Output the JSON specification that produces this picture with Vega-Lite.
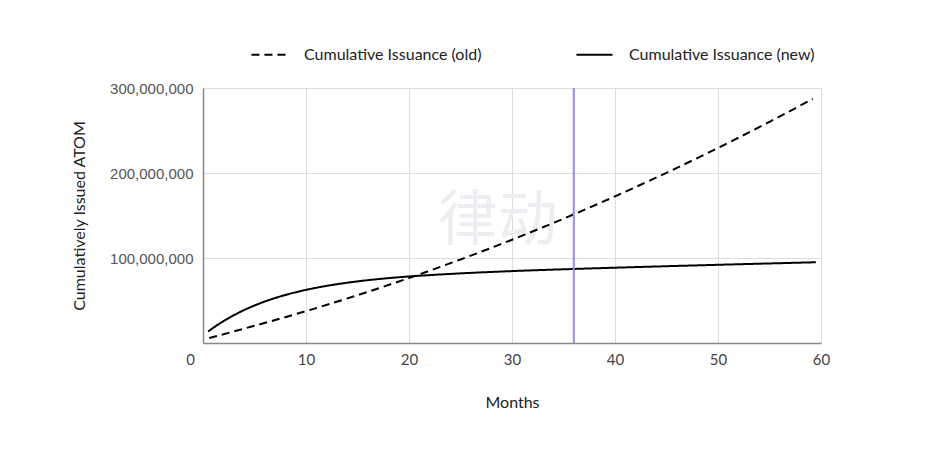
{
  "$schema": "https://vega.github.io/schema/vega-lite/v6.json",
  "width": 618,
  "height": 255,
  "autosize": "none",
  "padding": {"left": 203, "top": 88, "right": 115, "bottom": 119},
  "datasets": {
    "curves": [
      {"month": 0.6, "value": 5800000, "series": "Cumulative Issuance (old)"},
      {"month": 5, "value": 20250000, "series": "Cumulative Issuance (old)"},
      {"month": 10, "value": 37500000, "series": "Cumulative Issuance (old)"},
      {"month": 15, "value": 56250000, "series": "Cumulative Issuance (old)"},
      {"month": 20, "value": 76500000, "series": "Cumulative Issuance (old)"},
      {"month": 25, "value": 98250000, "series": "Cumulative Issuance (old)"},
      {"month": 30, "value": 121500000, "series": "Cumulative Issuance (old)"},
      {"month": 35, "value": 146250000, "series": "Cumulative Issuance (old)"},
      {"month": 40, "value": 172500000, "series": "Cumulative Issuance (old)"},
      {"month": 45, "value": 200250000, "series": "Cumulative Issuance (old)"},
      {"month": 50, "value": 229500000, "series": "Cumulative Issuance (old)"},
      {"month": 55, "value": 260250000, "series": "Cumulative Issuance (old)"},
      {"month": 59.2, "value": 287200000, "series": "Cumulative Issuance (old)"},
      {"month": 0.5, "value": 13500000, "series": "Cumulative Issuance (new)"},
      {"month": 1, "value": 17900000, "series": "Cumulative Issuance (new)"},
      {"month": 2, "value": 25800000, "series": "Cumulative Issuance (new)"},
      {"month": 3, "value": 32700000, "series": "Cumulative Issuance (new)"},
      {"month": 4, "value": 38800000, "series": "Cumulative Issuance (new)"},
      {"month": 5, "value": 44100000, "series": "Cumulative Issuance (new)"},
      {"month": 6, "value": 48800000, "series": "Cumulative Issuance (new)"},
      {"month": 7, "value": 52900000, "series": "Cumulative Issuance (new)"},
      {"month": 8, "value": 56500000, "series": "Cumulative Issuance (new)"},
      {"month": 10, "value": 62500000, "series": "Cumulative Issuance (new)"},
      {"month": 12, "value": 67200000, "series": "Cumulative Issuance (new)"},
      {"month": 14, "value": 70900000, "series": "Cumulative Issuance (new)"},
      {"month": 16, "value": 73900000, "series": "Cumulative Issuance (new)"},
      {"month": 18, "value": 76300000, "series": "Cumulative Issuance (new)"},
      {"month": 20, "value": 78300000, "series": "Cumulative Issuance (new)"},
      {"month": 23, "value": 80600000, "series": "Cumulative Issuance (new)"},
      {"month": 26, "value": 82500000, "series": "Cumulative Issuance (new)"},
      {"month": 30, "value": 84600000, "series": "Cumulative Issuance (new)"},
      {"month": 36, "value": 87100000, "series": "Cumulative Issuance (new)"},
      {"month": 42, "value": 89300000, "series": "Cumulative Issuance (new)"},
      {"month": 50, "value": 92000000, "series": "Cumulative Issuance (new)"},
      {"month": 59.5, "value": 95000000, "series": "Cumulative Issuance (new)"}
    ],
    "marker": [{"month": 36}],
    "watermark": [{"month": 28.6, "value": 142000000, "label": "律动"}]
  },
  "encoding": {
    "x": {
      "field": "month",
      "type": "quantitative",
      "title": "Months",
      "scale": {"domain": [0, 60], "nice": false},
      "axis": {
        "values": [0, 10, 20, 30, 40, 50, 60],
        "labelFlush": false,
        "labelOffset": {"condition": {"test": "datum.value === 0", "value": -13}, "value": 0},
        "labelPadding": 9,
        "titlePadding": 27
      }
    },
    "y": {
      "field": "value",
      "type": "quantitative",
      "title": "Cumulatively Issued ATOM",
      "scale": {"domain": [0, 300000000], "nice": false},
      "axis": {
        "values": [100000000, 200000000, 300000000],
        "format": ",.0f",
        "labelFont": "Liberation Sans",
        "labelColor": "#555",
        "labelPadding": 10,
        "titlePadding": 22
      }
    }
  },
  "layer": [
    {
      "data": {"name": "watermark"},
      "mark": {"type": "text", "font": "Noto Sans CJK SC", "fontSize": 60, "color": "#eceef2"},
      "encoding": {
        "text": {"field": "label"}
      }
    },
    {
      "data": {"name": "curves"},
      "mark": {"type": "line", "color": "black", "strokeWidth": 2, "interpolate": "monotone"},
      "encoding": {
        "strokeDash": {
          "field": "series",
          "type": "nominal",
          "scale": {
            "domain": ["Cumulative Issuance (old)", "Cumulative Issuance (new)"],
            "range": [[8, 5], [1, 0]]
          },
          "legend": {
            "title": null,
            "orient": "none",
            "direction": "horizontal",
            "legendX": 47,
            "legendY": -53,
            "symbolType": "stroke",
            "symbolSize": 1300,
            "symbolStrokeWidth": 2,
            "symbolStrokeColor": "black",
            "labelFont": "Lato",
            "labelFontSize": 16,
            "labelColor": "#222",
            "labelOffset": 15,
            "columnPadding": 90,
            "labelLimit": 300
          }
        }
      }
    },
    {
      "data": {"name": "marker"},
      "mark": {"type": "rule", "color": "#a385f0", "strokeWidth": 2},
      "encoding": {"y": null}
    }
  ],
  "config": {
    "view": {"stroke": "#dddddd"},
    "axis": {
      "grid": true,
      "gridColor": "#dddddd",
      "domainColor": "#888888",
      "domainWidth": 1.5,
      "ticks": false,
      "labelFont": "Lato",
      "labelFontSize": 15,
      "labelColor": "#444",
      "titleFont": "Lato",
      "titleFontSize": 16,
      "titleFontWeight": "normal",
      "titleColor": "#222"
    }
  }
}
